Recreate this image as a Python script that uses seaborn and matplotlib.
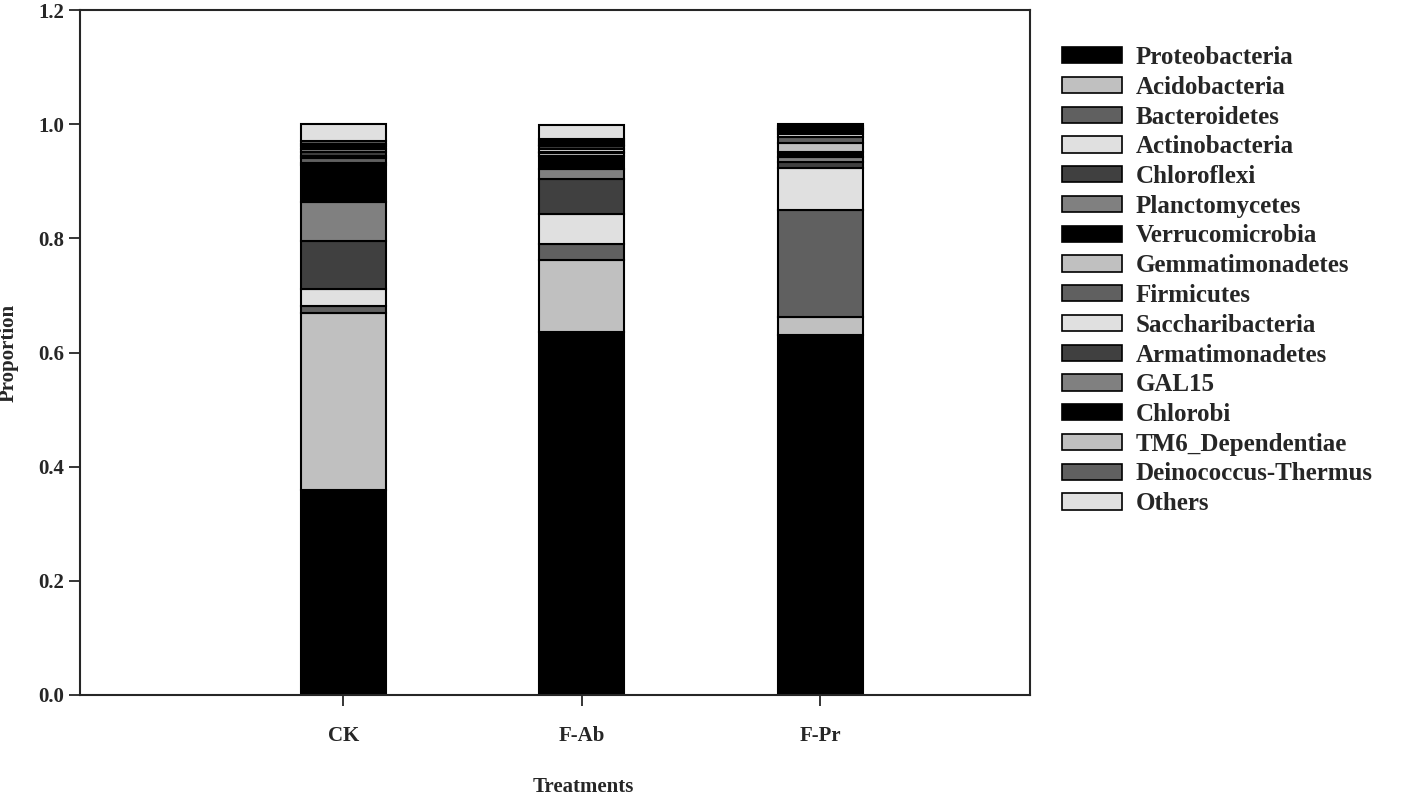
import numpy as np
import pandas as pd
import matplotlib
matplotlib.use('Agg')
import matplotlib.pyplot as plt
import seaborn as sns
from matplotlib.patches import Patch

treatments = ['CK', 'F-Ab', 'F-Pr']

taxa = ['Proteobacteria', 'Acidobacteria', 'Bacteroidetes', 'Actinobacteria',
        'Chloroflexi', 'Planctomycetes', 'Verrucomicrobia', 'Gemmatimonadetes',
        'Firmicutes', 'Saccharibacteria', 'Armatimonadetes', 'GAL15',
        'Chlorobi', 'TM6_Dependentiae', 'Deinococcus-Thermus', 'Others']

# proportion of each taxon per treatment (CK, F-Ab, F-Pr)
proteobacteria = [0.360, 0.636, 0.630]
acidobacteria = [0.310, 0.126, 0.032]
bacteroidetes = [0.012, 0.028, 0.187]
actinobacteria = [0.030, 0.053, 0.074]
chloroflexi = [0.084, 0.061, 0.011]
planctomycetes = [0.067, 0.018, 0.009]
verrucomicrobia = [0.065, 0.023, 0.009]
gemmatimonadetes = [0.004, 0.004, 0.015]
firmicutes = [0.009, 0.003, 0.011]
saccharibacteria = [0.004, 0.004, 0.004]
armatimonadetes = [0.006, 0.005, 0.004]
gal15 = [0.005, 0.003, 0.003]
chlorobi = [0.006, 0.003, 0.003]
tm6 = [0.003, 0.004, 0.002]
deinococcus = [0.005, 0.003, 0.003]
others = [0.030, 0.024, 0.003]

series = [proteobacteria, acidobacteria, bacteroidetes, actinobacteria,
          chloroflexi, planctomycetes, verrucomicrobia, gemmatimonadetes,
          firmicutes, saccharibacteria, armatimonadetes, gal15,
          chlorobi, tm6, deinococcus, others]

# grey cycle used by the original
grey_cycle = ['#000000', '#c0c0c0', '#606060', '#e0e0e0', '#404040', '#808080']
colors = [grey_cycle[i % 6] for i in range(len(taxa))]

df = pd.DataFrame(dict(zip(taxa, series)), index=treatments)

sns.set_style('ticks')
plt.rcParams['font.family'] = ['Liberation Serif', 'DejaVu Serif']
plt.rcParams['font.weight'] = 'bold'

fig = plt.figure(figsize=(14.16, 7.98), dpi=100)
ax = fig.add_axes([80 / 1416, 1 - 695 / 798, 950 / 1416, 685 / 798])

bottom = np.zeros(len(treatments))
for name, col in zip(taxa, colors):
    sns.barplot(x=df.index, y=df[name].values, bottom=bottom, color=col,
                width=0.357, edgecolor='black', linewidth=1.5, ax=ax,
                saturation=1)
    bottom += df[name].values

ax.set_xlim(-1.105, 2.88)
ax.set_ylim(0, 1.2)
ax.set_yticks(np.arange(0, 1.21, 0.2))
ax.set_yticklabels([f'{v:.1f}' for v in np.arange(0, 1.21, 0.2)])
ax.tick_params(axis='both', direction='out', length=8, width=1.3,
               labelsize=15, top=False, right=False)
ax.tick_params(axis='x', length=8, pad=14)
for s in ax.spines.values():
    s.set_visible(True)
    s.set_linewidth(1.5)
ax.set_ylabel('Proportion', fontsize=15, fontweight='bold', labelpad=14)
ax.set_xlabel('Treatments', fontsize=15, fontweight='bold', va='center')
# label sits under the middle bar, as in the original
ax.xaxis.set_label_coords(0.53, -0.134)

handles = [Patch(facecolor=c, edgecolor='black', linewidth=1.2) for c in colors]
fig.legend(handles, taxa, loc='upper left', bbox_to_anchor=(1062 / 1416, 1 - 46 / 798),
           frameon=False, prop={'family': 'Liberation Serif', 'weight': 'bold', 'size': 18},
           handlelength=2.4, handleheight=0.62, handletextpad=0.55,
           labelspacing=0.27, borderpad=0, borderaxespad=0)

fig.savefig('out.png', dpi=100)
